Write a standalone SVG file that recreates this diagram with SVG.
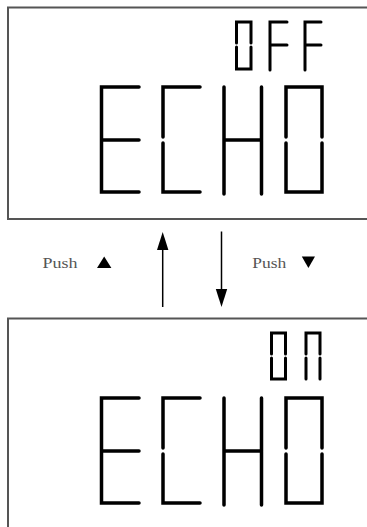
<svg xmlns="http://www.w3.org/2000/svg" width="367" height="527" viewBox="0 0 367 527">
<style>
.frame{fill:none;stroke:#555;stroke-width:2}
.big{fill:none;stroke:#000;stroke-width:3.5;stroke-linecap:round;stroke-linejoin:miter}
.small{fill:none;stroke:#000;stroke-width:3;stroke-linecap:round;stroke-linejoin:miter}
.lbl{font-family:"Liberation Serif",serif;font-size:15px;fill:#555}
.conn{stroke:#000;stroke-width:1.5;fill:none}
.head{fill:#000}
</style>
<defs>
<g id="echo">
<path class="big" d="M139,87 H101.5 V192 H139 M101.5,140 H139"/>
<path class="big" d="M200,87 H163 V137 M163,143 V192 H200"/>
<path class="big" d="M224,87 V194 M261.5,87 V194 M224,140 H261.5"/>
<path class="big" d="M286,137 V87 H322 V137 M286,143 V192 H322 V143"/>
</g>
</defs>
<g id="display-off">
<path class="frame" d="M380,7.5 H8 V219 H380"/>
<use href="#echo"/>
<path class="small" d="M236.5,43 V22 H251 V43 M236.5,47 V69 H251 V47"/>
<path class="small" d="M287,22 H270 V70 M270,45 H287"/>
<path class="small" d="M321,22 H305 V70 M305,45 H321"/>
</g>
<g id="display-on">
<path class="frame" d="M380,318.5 H8 V540"/>
<use href="#echo" transform="translate(0,311)"/>
<path class="small" d="M271.5,354 V333 H285.5 V354 M271.5,358 V379 H285.5 V358"/>
<path class="small" d="M306,354 V333 H320 V354 M306,358 V379 M320,358 V379"/>
</g>
<g id="connectors">
<line class="conn" x1="162.7" y1="307" x2="162.7" y2="249"/>
<path class="head" d="M157,250 L162.7,232 L168.4,250 Z"/>
<line class="conn" x1="221.5" y1="231.5" x2="221.5" y2="290"/>
<path class="head" d="M215.8,289 L221.5,307 L227.2,289 Z"/>
</g>
<g id="label-up">
<text class="lbl" x="42.5" y="268" textLength="35" lengthAdjust="spacingAndGlyphs">Push</text>
<path class="head" d="M97,268 L104.2,256.5 L111.4,268 Z"/>
</g>
<g id="label-down">
<text class="lbl" x="252.3" y="268" textLength="34" lengthAdjust="spacingAndGlyphs">Push</text>
<path class="head" d="M301.8,256.5 L315,256.5 L308.4,268 Z"/>
</g>
</svg>
